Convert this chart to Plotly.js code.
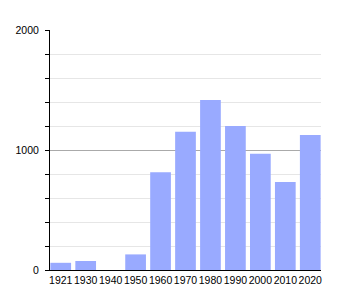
<!DOCTYPE html>
<html>
<head>
<meta charset="utf-8">
<script src="https://cdn.plot.ly/plotly-3.0.1.min.js"></script>
<style>html,body{margin:0;padding:0;background:#fff;}#chart{width:350px;height:300px;}</style>
</head>
<body>
<div id="chart"></div>
<script>
var years = ['1921','1930','1940','1950','1960','1970','1980','1990','2000','2010','2020'];
var population = [60, 75, 0, 130, 815, 1153, 1417, 1200, 969, 733, 1125];
var yTickValues = [0, 1000, 2000];
var yTickLabels = ['0', '1000', '2000'];

var trace = {
  type: 'bar',
  x: years,
  y: population,
  marker: {color: '#99aaff', line: {width: 0}},
  hoverinfo: 'x+y'
};

var layout = {
  width: 350,
  height: 300,
  margin: {l: 50, r: 29, t: 30, b: 30, pad: 0},
  paper_bgcolor: '#ffffff',
  plot_bgcolor: '#ffffff',
  bargap: 0.17,
  showlegend: false,
  font: {family: 'Liberation Sans, Arial, sans-serif', size: 10.5, color: '#000'},
  xaxis: {
    type: 'category',
    range: [-0.43, 10.43],
    showline: true,
    linecolor: '#000',
    linewidth: 1,
    ticks: '',
    tickangle: 0,
    showgrid: false,
    zeroline: false,
    tickfont: {size: 10.5, color: '#000'},
    fixedrange: true
  },
  yaxis: {
    range: [0, 2000],
    tickvals: yTickValues,
    ticktext: yTickLabels,
    showline: true,
    linecolor: '#000',
    linewidth: 1,
    ticks: 'outside',
    ticklen: 4,
    tickcolor: '#000',
    ticklabelstandoff: 4,
    showgrid: true,
    gridcolor: '#aaaaaa',
    gridwidth: 1,
    zeroline: false,
    tickfont: {size: 10.5, color: '#000'},
    minor: {
      dtick: 200,
      ticks: 'outside',
      ticklen: 4,
      tickcolor: '#000',
      showgrid: true,
      gridcolor: '#e6e6e6',
      gridwidth: 1
    },
    fixedrange: true
  }
};

Plotly.newPlot('chart', [trace], layout, {displayModeBar: false, staticPlot: true});
</script>
</body>
</html>
